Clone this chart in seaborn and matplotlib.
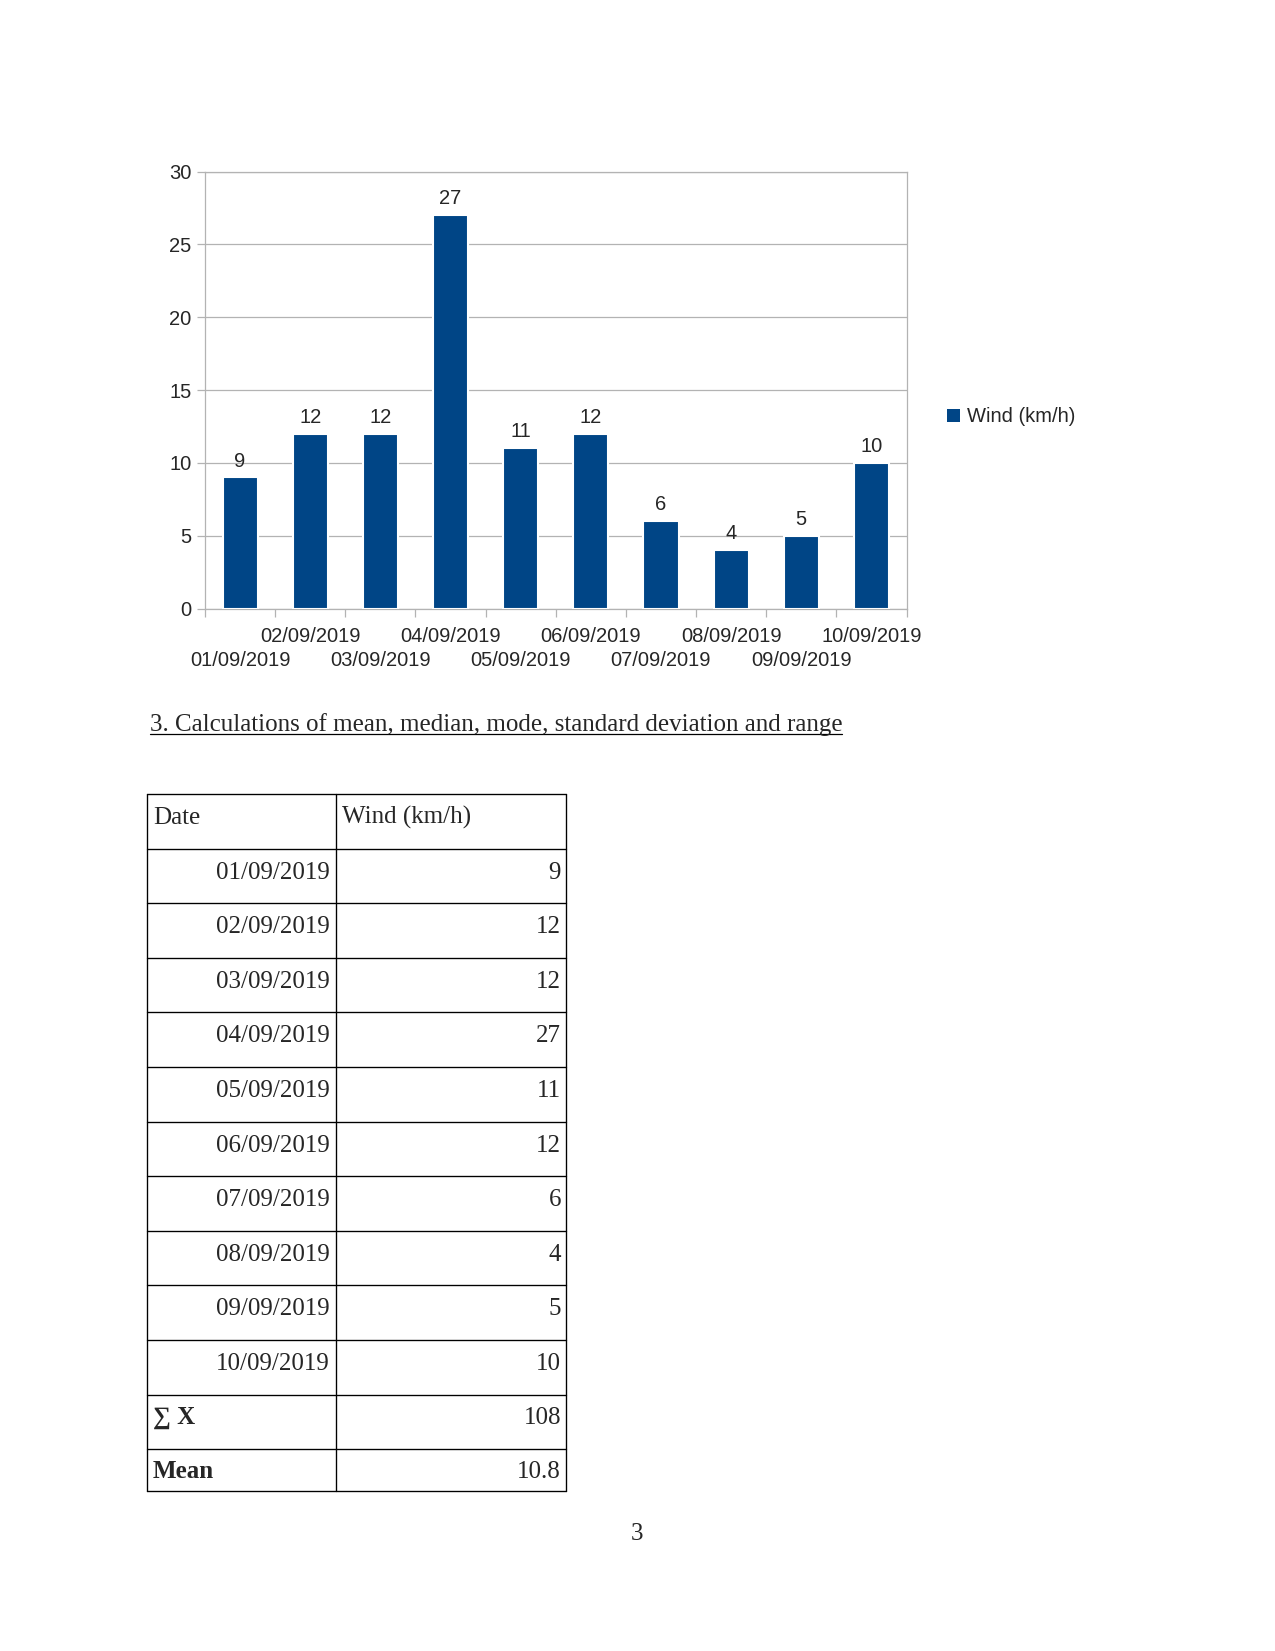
import numpy as np
import pandas as pd
import matplotlib.pyplot as plt
import seaborn as sns
from matplotlib.patches import Patch
from matplotlib.lines import Line2D

dates = ["01/09/2019", "02/09/2019", "03/09/2019", "04/09/2019", "05/09/2019",
         "06/09/2019", "07/09/2019", "08/09/2019", "09/09/2019", "10/09/2019"]
wind = [9, 12, 12, 27, 11, 12, 6, 4, 5, 10]
series_name = "Wind (km/h)"
heading = "3. Calculations of mean, median, mode, standard deviation and range"
table_header = ["Date", "Wind (km/h)"]
sum_label = "∑ X"
mean_label = "Mean"
page_number = "3"

sns.set_theme(style="white")
plt.rcParams['font.family'] = ['Liberation Sans', 'DejaVu Sans']
serif = ['Liberation Serif', 'DejaVu Serif']
fs_chart = 9.7

W, H = 1275, 1651
fig = plt.figure(figsize=(W / 150, H / 150), dpi=150)
fig.patch.set_facecolor('white')


def fx(px):
    return px / W


def fy(py):
    return 1 - py / H


# ---- bar chart ----
ax = fig.add_axes([fx(205), fy(608.5), (906.5 - 205) / W, (608.5 - 171.6) / H])
df = pd.DataFrame({'Date': dates, 'Wind': wind})
sns.barplot(data=df, x='Date', y='Wind', color='#004586', saturation=1,
            width=0.5, ax=ax, zorder=3)
ax.bar_label(ax.containers[0], fontsize=fs_chart, padding=3.3)

ax.set_xlim(-0.5, len(dates) - 0.5)
ax.set_ylim(0, 30)
ax.set_yticks(range(0, 31, 5))
ax.set_xlabel("")
ax.set_ylabel("")

# staggered category labels: odd ones on the upper row, even ones below
idx = np.arange(len(dates))
ax.set_xticks(idx[1::2], labels=dates[1::2], fontsize=fs_chart)
ax.set_xticks(np.arange(-0.5, len(dates), 1), minor=True)
ax.tick_params(axis='x', which='major', length=0, pad=9, bottom=True)
ax.tick_params(axis='x', which='minor', length=4, width=0.6, color='#b3b3b3',
               direction='out', bottom=True)
sec = ax.secondary_xaxis('bottom')
sec.set_xticks(idx[0::2], labels=dates[0::2], fontsize=fs_chart)
sec.tick_params(axis='x', length=0, pad=20.5)
sec.spines['bottom'].set_visible(False)

ax.tick_params(axis='y', length=4, width=0.6, color='#b3b3b3', direction='out',
               left=True, pad=2.5, labelsize=fs_chart)

ax.yaxis.grid(True, color='#b3b3b3', linewidth=0.6)
ax.xaxis.grid(False)
ax.set_axisbelow(True)
for s in ax.spines.values():
    s.set_color('#b3b3b3')
    s.set_linewidth(0.6)

handle = Patch(facecolor='#004586', edgecolor='none')
fig.legend([handle], [series_name], loc='center left',
           bbox_to_anchor=(fx(947), fy(417)), frameon=False, fontsize=fs_chart,
           handlelength=0.62, handleheight=0.62, handletextpad=0.35,
           borderpad=0, borderaxespad=0)

# ---- heading (underlined) ----
t = fig.text(fx(149.5), fy(730.5), heading, family=serif, fontsize=12,
             va='baseline', ha='left')
fig.canvas.draw()
bb = t.get_window_extent()
fig.add_artist(Line2D([bb.x0 / W, bb.x1 / W], [fy(733.5), fy(733.5)],
                      color='black', linewidth=0.6))

# ---- table ----
col_x = [147.3, 336.3, 565.5]
row_step = 54.6
n_rows = 1 + len(dates) + 1
row_tops = [794 + i * row_step for i in range(n_rows + 1)]
table_bottom = 1491
lines_y = row_tops + [table_bottom]
for y in lines_y:
    fig.add_artist(Line2D([fx(col_x[0]), fx(col_x[2])], [fy(y), fy(y)],
                          color='black', linewidth=0.65))
for x in col_x:
    fig.add_artist(Line2D([fx(x), fx(x)], [fy(794), fy(table_bottom)],
                          color='black', linewidth=0.65))

pad_l, pad_r, base_off = 5.5, 4.5, 30

fig.text(fx(col_x[0] + pad_l), fy(row_tops[0] + base_off), table_header[0],
         family=serif, fontsize=12, va='baseline', ha='left')
fig.text(fx(col_x[1] + pad_l), fy(row_tops[0] + base_off), table_header[1],
         family=serif, fontsize=12, va='baseline', ha='left')

for i, (d, v) in enumerate(zip(dates, wind)):
    top = row_tops[i + 1]
    fig.text(fx(col_x[1] - 6.8), fy(top + base_off), d, family=serif,
             fontsize=12, va='baseline', ha='right')
    fig.text(fx(col_x[2] - pad_r), fy(top + base_off), str(v), family=serif,
             fontsize=12, va='baseline', ha='right')

summary = [(sum_label, f"{sum(wind)}"), (mean_label, f"{np.mean(wind):g}")]
for j, (lab, val) in enumerate(summary):
    top = row_tops[len(dates) + 1 + j]
    fig.text(fx(col_x[0] + pad_l), fy(top + base_off - 1), lab, family=serif,
             fontsize=12, fontweight='bold', va='baseline', ha='left')
    fig.text(fx(col_x[2] - pad_r), fy(top + base_off - 1), val, family=serif,
             fontsize=12, va='baseline', ha='right')

fig.text(fx(637), fy(1540), page_number, family=serif, fontsize=12,
         va='baseline', ha='center')

fig.savefig("out.png", dpi=150, facecolor='white')
